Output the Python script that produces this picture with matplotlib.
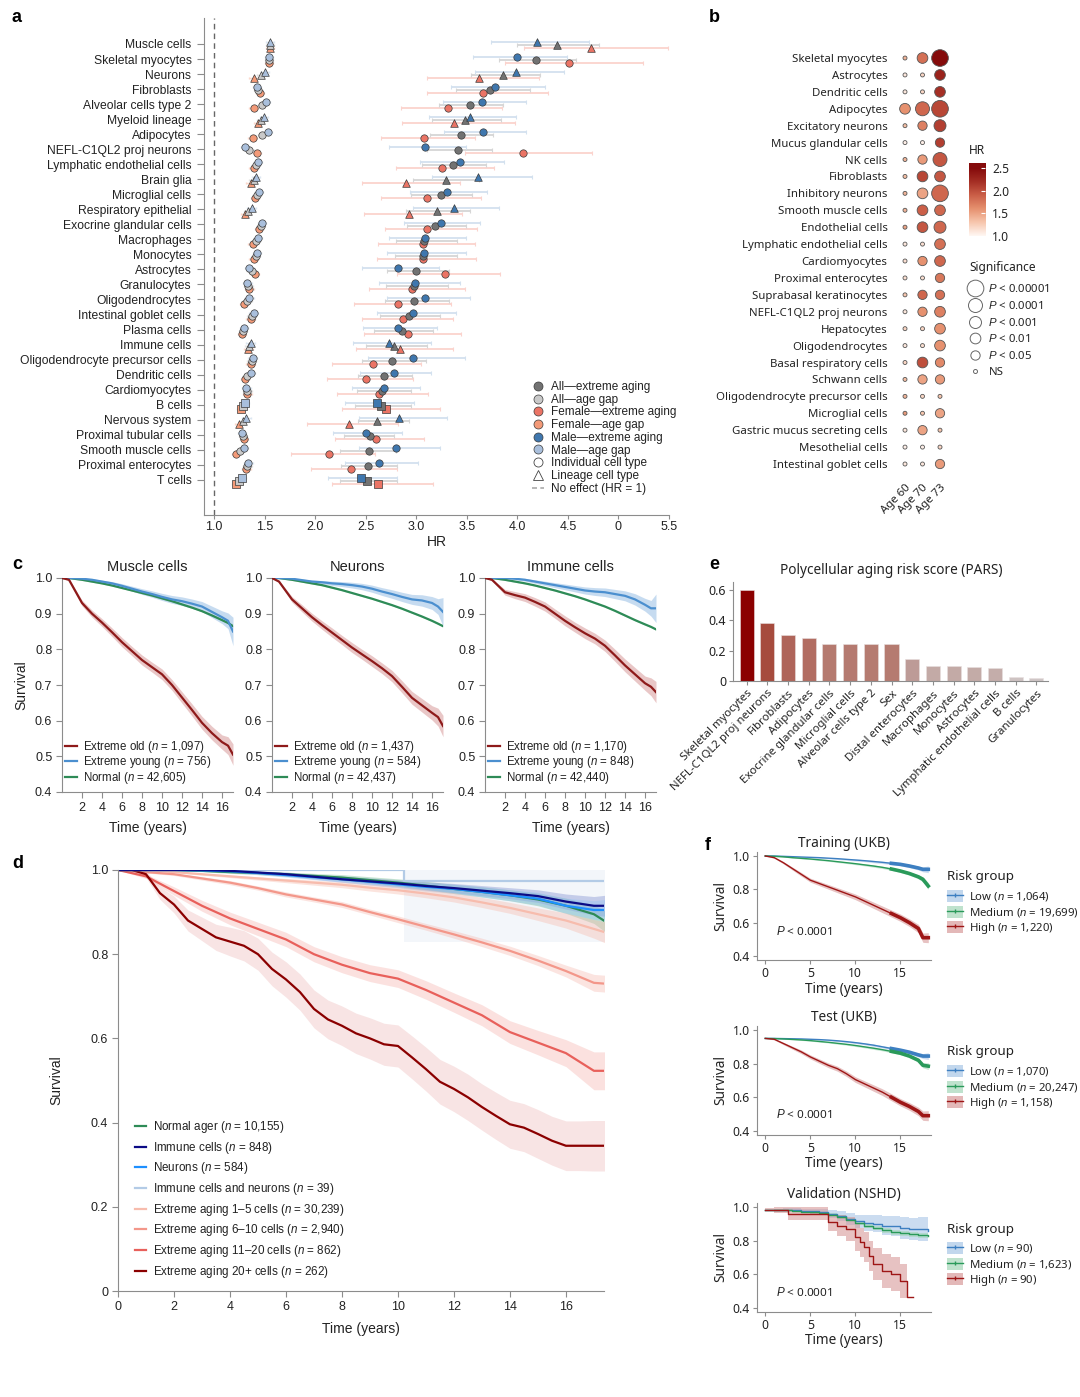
import numpy as np
import matplotlib
matplotlib.use('Agg')
import matplotlib.pyplot as plt
from matplotlib.colors import LinearSegmentedColormap
from matplotlib.lines import Line2D
from matplotlib.patches import Patch

plt.rcParams['font.family'] = ['Liberation Sans', 'DejaVu Sans']
plt.rcParams['mathtext.fontset'] = 'custom'
plt.rcParams['mathtext.it'] = 'Liberation Sans:italic'
plt.rcParams['mathtext.rm'] = 'Liberation Sans'
plt.rcParams['axes.edgecolor'] = '#8c8c8c'
plt.rcParams['xtick.color'] = '#8c8c8c'
plt.rcParams['ytick.color'] = '#8c8c8c'
plt.rcParams['xtick.labelcolor'] = '#222222'
plt.rcParams['ytick.labelcolor'] = '#222222'
plt.rcParams['text.color'] = '#222222'
plt.rcParams['axes.labelcolor'] = '#222222'

NOTO = ['Noto Sans', 'DejaVu Sans']

# ---------------- panel a data ----------------
rows_a = ['Muscle cells', 'Skeletal myocytes', 'Neurons', 'Fibroblasts', 'Alveolar cells type 2',
          'Myeloid lineage', 'Adipocytes', 'NEFL-C1QL2 proj neurons', 'Lymphatic endothelial cells',
          'Brain glia', 'Microglial cells', 'Respiratory epithelial', 'Exocrine glandular cells',
          'Macrophages', 'Monocytes', 'Astrocytes', 'Granulocytes', 'Oligodendrocytes',
          'Intestinal goblet cells', 'Plasma cells', 'Immune cells', 'Oligodendrocyte precursor cells',
          'Dendritic cells', 'Cardiomyocytes', 'B cells', 'Nervous system', 'Proximal tubular cells',
          'Smooth muscle cells', 'Proximal enterocytes', 'T cells']
lineage_a = ['Muscle cells', 'Neurons', 'Myeloid lineage', 'Brain glia', 'Respiratory epithelial',
             'Immune cells', 'Nervous system']
square_a = ['B cells', 'T cells']

male_ext = [4.19, 4.00, 3.99, 3.78, 3.65, 3.53, 3.66, 3.09, 3.43, 3.61, 3.30, 3.37, 3.24, 3.09, 3.08,
            2.82, 2.99, 3.09, 2.97, 2.82, 2.73, 2.97, 2.78, 2.68, 2.61, 2.83, 2.50, 2.80, 2.63, 2.45]
male_lo = [3.74, 3.56, 3.58, 3.34, 3.26, 3.13, 3.27, 2.73, 3.04, 3.16, 2.94, 2.97, 2.88, 2.73, 2.71,
           2.46, 2.63, 2.71, 2.61, 2.47, 2.37, 2.52, 2.44, 2.36, 2.29, 2.43, 2.18, 2.43, 2.29, 2.13]
male_hi = [4.71, 4.49, 4.46, 4.27, 4.09, 3.99, 4.09, 3.49, 3.87, 4.14, 3.70, 3.82, 3.63, 3.49, 3.49,
           3.22, 3.43, 3.53, 3.39, 3.20, 3.15, 3.48, 3.15, 3.04, 2.98, 3.30, 2.86, 3.23, 3.02, 2.81]
all_ext = [4.39, 4.18, 3.86, 3.73, 3.53, 3.48, 3.44, 3.41, 3.36, 3.29, 3.24, 3.20, 3.19, 3.08, 3.07,
           3.00, 2.98, 2.98, 2.93, 2.86, 2.78, 2.76, 2.68, 2.66, 2.65, 2.61, 2.54, 2.53, 2.52, 2.51]
all_lo = [4.00, 3.82, 3.54, 3.39, 3.22, 3.16, 3.14, 3.11, 3.06, 2.97, 2.95, 2.90, 2.91, 2.80, 2.79,
          2.71, 2.70, 2.69, 2.64, 2.58, 2.50, 2.46, 2.42, 2.41, 2.39, 2.42, 2.28, 2.25, 2.26, 2.25]
all_hi = [4.81, 4.58, 4.22, 4.12, 3.86, 3.84, 3.76, 3.75, 3.69, 3.62, 3.55, 3.53, 3.49, 3.40, 3.40,
          3.32, 3.31, 3.32, 3.23, 3.17, 3.11, 3.10, 2.96, 2.95, 2.95, 2.93, 2.78, 2.80, 2.81, 2.81]
fem_ext = [4.73, 4.51, 3.62, 3.66, 3.31, 3.37, 3.08, 4.06, 3.25, 2.90, 3.11, 2.93, 3.11, 3.07, 3.07,
           3.28, 2.96, 2.82, 2.87, 2.92, 2.84, 2.57, 2.50, 2.63, 2.70, 2.33, 2.60, 2.14, 2.35, 2.62]
fem_lo = [4.07, 3.88, 3.11, 3.11, 2.85, 2.86, 2.65, 3.48, 2.80, 2.46, 2.65, 2.48, 2.69, 2.62, 2.61,
          2.81, 2.53, 2.38, 2.46, 2.48, 2.40, 2.17, 2.12, 2.22, 2.27, 1.92, 2.20, 1.76, 1.96, 2.17]
fem_hi = [5.49, 5.24, 4.21, 4.30, 3.85, 3.98, 3.58, 4.74, 3.77, 3.43, 3.64, 3.45, 3.60, 3.58, 3.59,
          3.83, 3.48, 3.34, 3.36, 3.44, 3.36, 3.05, 2.97, 3.12, 3.23, 2.82, 3.08, 2.59, 2.81, 3.17]
male_gap = [1.55, 1.54, 1.50, 1.42, 1.51, 1.49, 1.53, 1.31, 1.43, 1.41, 1.44, 1.37, 1.47, 1.43, 1.42,
            1.35, 1.33, 1.35, 1.39, 1.30, 1.36, 1.38, 1.36, 1.32, 1.31, 1.32, 1.28, 1.30, 1.34, 1.28]
all_gap = [1.55, 1.54, 1.46, 1.43, 1.47, 1.46, 1.47, 1.35, 1.41, 1.39, 1.42, 1.34, 1.46, 1.41, 1.41,
           1.37, 1.34, 1.33, 1.37, 1.29, 1.35, 1.37, 1.33, 1.33, 1.29, 1.29, 1.29, 1.26, 1.33, 1.25]
fem_gap = [1.55, 1.54, 1.39, 1.45, 1.39, 1.43, 1.38, 1.42, 1.39, 1.36, 1.40, 1.31, 1.44, 1.38, 1.39,
           1.40, 1.35, 1.30, 1.36, 1.28, 1.34, 1.36, 1.31, 1.33, 1.27, 1.25, 1.30, 1.22, 1.32, 1.22]
gap_ci = 0.04
hr_ticks = [1.0, 1.5, 2.0, 2.5, 3.0, 3.5, 4.0, 4.5, 5.0, 5.5]
hr_ticklabels = ['1.0', '1.5', '2.0', '2.5', '3.0', '3.5', '4.0', '4.5', '0', '5.5']

# ---------------- panel b data ----------------
rows_b = ['Skeletal myocytes', 'Astrocytes', 'Dendritic cells', 'Adipocytes', 'Excitatory neurons',
          'Mucus glandular cells', 'NK cells', 'Fibroblasts', 'Inhibitory neurons', 'Smooth muscle cells',
          'Endothelial cells', 'Lymphatic endothelial cells', 'Cardiomyocytes', 'Proximal enterocytes',
          'Suprabasal keratinocytes', 'NEFL-C1QL2 proj neurons', 'Hepatocytes', 'Oligodendrocytes',
          'Basal respiratory cells', 'Schwann cells', 'Oligodendrocyte precursor cells', 'Microglial cells',
          'Gastric mucus secreting cells', 'Mesothelial cells', 'Intestinal goblet cells']
ages_b = ['Age 60', 'Age 70', 'Age 73']
hr_age60 = [1.4, 1.1, 1.1, 1.6, 1.35, 1.05, 1.4, 1.35, 1.4, 1.4, 1.5, 1.1, 1.15, 1.15, 1.3, 1.1, 1.2,
            1.1, 1.2, 1.35, 1.4, 1.55, 1.1, 1.05, 1.1]
sig_age60 = [0, 0, 0, 2, 0, 0, 0, 0, 0, 0, 0, 0, 0, 0, 0, 0, 0, 0, 0, 0, 0, 0, 0, 0, 0]
hr_age70 = [1.8, 1.2, 1.2, 1.85, 1.7, 1.05, 1.55, 2.05, 1.5, 1.9, 1.95, 1.15, 1.6, 1.15, 1.85, 1.6, 1.2,
            1.15, 2.0, 1.5, 1.2, 1.3, 1.5, 1.05, 1.1]
sig_age70 = [2, 0, 0, 4, 1, 0, 1, 2, 2, 2, 2, 0, 1, 0, 1, 1, 0, 0, 2, 1, 0, 0, 1, 0, 0]
hr_age73 = [2.5, 2.3, 2.2, 2.05, 2.1, 2.1, 1.95, 1.95, 1.85, 1.85, 1.85, 1.8, 1.85, 1.75, 1.8, 1.7, 1.6,
            1.6, 1.65, 1.55, 1.3, 1.5, 1.3, 1.2, 1.55]
sig_age73 = [5, 2, 2, 5, 3, 1, 4, 2, 5, 2, 3, 2, 2, 1, 1, 2, 2, 2, 1, 1, 0, 1, 0, 0, 1]
sig_labels = ['NS', '$P$ < 0.05', '$P$ < 0.01', '$P$ < 0.001', '$P$ < 0.0001', '$P$ < 0.00001']
sig_diam_px = [4, 9.3, 10.7, 12, 14, 16.7]

# ---------------- panel c data ----------------
t_c = [0, 0.7, 2, 3, 4, 5, 6, 7, 8, 9, 10, 11, 12, 13, 14, 15, 16, 16.6, 17.1]
c_titles = ['Muscle cells', 'Neurons', 'Immune cells']
c_old = [[1.0, 0.995, 0.93, 0.90, 0.875, 0.848, 0.82, 0.795, 0.77, 0.75, 0.73, 0.70, 0.665, 0.63, 0.594, 0.565, 0.54, 0.53, 0.505],
         [1.0, 0.99, 0.94, 0.915, 0.89, 0.868, 0.847, 0.826, 0.805, 0.786, 0.767, 0.747, 0.725, 0.695, 0.664, 0.643, 0.622, 0.61, 0.585],
         [1.0, 0.995, 0.96, 0.952, 0.945, 0.933, 0.92, 0.90, 0.88, 0.862, 0.845, 0.83, 0.81, 0.783, 0.755, 0.73, 0.705, 0.695, 0.68]]
c_young = [[1.0, 1.0, 0.998, 0.995, 0.99, 0.985, 0.978, 0.97, 0.962, 0.955, 0.947, 0.94, 0.935, 0.928, 0.92, 0.905, 0.89, 0.88, 0.85],
           [1.0, 1.0, 0.998, 0.994, 0.99, 0.988, 0.985, 0.983, 0.98, 0.976, 0.97, 0.962, 0.955, 0.947, 0.94, 0.937, 0.93, 0.92, 0.905],
           [1.0, 1.0, 1.0, 0.998, 0.995, 0.99, 0.985, 0.98, 0.975, 0.97, 0.965, 0.962, 0.96, 0.955, 0.95, 0.94, 0.925, 0.915, 0.915]]
c_normal = [[1.0, 1.0, 0.995, 0.99, 0.985, 0.979, 0.972, 0.965, 0.958, 0.951, 0.943, 0.935, 0.926, 0.917, 0.907, 0.895, 0.882, 0.874, 0.865],
            [1.0, 1.0, 0.995, 0.99, 0.985, 0.98, 0.973, 0.966, 0.958, 0.95, 0.942, 0.933, 0.924, 0.914, 0.903, 0.892, 0.88, 0.872, 0.865],
            [1.0, 1.0, 0.995, 0.99, 0.985, 0.979, 0.972, 0.965, 0.957, 0.949, 0.94, 0.93, 0.92, 0.908, 0.895, 0.882, 0.87, 0.863, 0.856]]
c_old_hw = [0, 0.003, 0.008, 0.01, 0.011, 0.012, 0.013, 0.013, 0.014, 0.014, 0.015, 0.015, 0.016, 0.017, 0.018, 0.019, 0.02, 0.025, 0.03]
c_young_hw = [0, 0, 0.002, 0.003, 0.004, 0.005, 0.006, 0.007, 0.008, 0.009, 0.01, 0.011, 0.012, 0.013, 0.014, 0.016, 0.018, 0.022, 0.04]
c_normal_hw = 0.002
c_n_old = ['1,097', '1,437', '1,170']
c_n_young = ['756', '584', '848']
c_n_normal = ['42,605', '42,437', '42,440']

# ---------------- panel d data ----------------
t_d = [0, 1, 2, 3, 4, 5, 6, 7, 8, 9, 10, 11, 12, 13, 14, 15, 16, 17, 17.4]
t_d_fine = [0, 0.5, 1, 1.5, 2, 2.5, 3, 3.5, 4, 4.5, 5, 5.5, 6, 6.5, 7, 7.5, 8, 8.5, 9, 9.5, 10, 10.5,
            11, 11.5, 12, 12.5, 13, 13.5, 14, 14.5, 15, 15.5, 16, 16.5, 17, 17.4]
d_normal = [1.0, 1.0, 1.0, 0.998, 0.995, 0.993, 0.99, 0.986, 0.982, 0.976, 0.97, 0.963, 0.955, 0.948, 0.94, 0.93, 0.915, 0.895, 0.878]
d_immune = [1.0, 1.0, 1.0, 1.0, 0.998, 0.994, 0.99, 0.984, 0.978, 0.973, 0.968, 0.962, 0.957, 0.951, 0.945, 0.938, 0.925, 0.915, 0.915]
d_neurons = [1.0, 1.0, 1.0, 0.999, 0.997, 0.993, 0.988, 0.983, 0.978, 0.972, 0.966, 0.96, 0.955, 0.948, 0.94, 0.932, 0.915, 0.905, 0.905]
d_both_t = [0, 10.2, 17.4]
d_both = [1.0, 0.975, 0.975]
d_both_band = [0.83, 1.0]
d_ext1_5 = [1.0, 1.0, 0.995, 0.99, 0.985, 0.98, 0.975, 0.97, 0.965, 0.958, 0.952, 0.944, 0.935, 0.923, 0.91, 0.895, 0.88, 0.86, 0.852]
d_ext6_10 = [1.0, 0.995, 0.99, 0.98, 0.97, 0.957, 0.942, 0.93, 0.918, 0.90, 0.883, 0.865, 0.847, 0.828, 0.808, 0.785, 0.76, 0.732, 0.73]
d_ext11_20 = [1.0, 0.985, 0.95, 0.915, 0.885, 0.86, 0.835, 0.80, 0.775, 0.755, 0.742, 0.715, 0.685, 0.655, 0.615, 0.59, 0.565, 0.523, 0.523]
d_ext20 = [1.0, 1.0, 0.99, 0.945, 0.918, 0.88, 0.86, 0.84, 0.83, 0.82, 0.80, 0.765, 0.74, 0.71, 0.67, 0.645,
           0.63, 0.612, 0.60, 0.586, 0.582, 0.555, 0.527, 0.497, 0.48, 0.46, 0.437, 0.416, 0.396, 0.388,
           0.373, 0.357, 0.345, 0.345, 0.345, 0.345]
d_ext20_hw = [0, 0.004, 0.008, 0.015, 0.02, 0.025, 0.028, 0.031, 0.034, 0.036, 0.038, 0.04, 0.042, 0.043,
              0.045, 0.046, 0.047, 0.048, 0.049, 0.05, 0.05, 0.051, 0.052, 0.053, 0.054, 0.055, 0.055,
              0.056, 0.057, 0.057, 0.058, 0.058, 0.059, 0.059, 0.06, 0.06]
d_ext11_20_hw = [0, 0.005, 0.01, 0.013, 0.015, 0.016, 0.017, 0.018, 0.019, 0.02, 0.021, 0.022, 0.023, 0.025, 0.027, 0.029, 0.032, 0.045, 0.045]
d_ext6_10_hw = [0, 0.002, 0.003, 0.004, 0.005, 0.005, 0.006, 0.006, 0.007, 0.007, 0.008, 0.008, 0.009, 0.01, 0.011, 0.012, 0.014, 0.02, 0.02]
d_small_hw = [0, 0, 0.001, 0.002, 0.003, 0.004, 0.005, 0.006, 0.007, 0.008, 0.009, 0.01, 0.011, 0.012, 0.013, 0.015, 0.018, 0.022, 0.025]
d_labels = ['Normal ager ($n$ = 10,155)', 'Immune cells ($n$ = 848)', 'Neurons ($n$ = 584)',
            'Immune cells and neurons ($n$ = 39)', 'Extreme aging 1–5 cells ($n$ = 30,239)',
            'Extreme aging 6–10 cells ($n$ = 2,940)', 'Extreme aging 11–20 cells ($n$ = 862)',
            'Extreme aging 20+ cells ($n$ = 262)']

# ---------------- panel e data ----------------
pars_labels = ['Skeletal myocytes', 'NEFL-C1QL2 proj neurons', 'Fibroblasts', 'Adipocytes',
               'Exocrine glandular cells', 'Microglial cells', 'Alveolar cells type 2', 'Sex',
               'Distal enterocytes', 'Macrophages', 'Monocytes', 'Astrocytes',
               'Lymphatic endothelial cells', 'B cells', 'Granulocytes']
pars_values = [0.60, 0.385, 0.305, 0.283, 0.247, 0.245, 0.243, 0.243, 0.148, 0.097, 0.097, 0.095, 0.087, 0.027, 0.018]

# ---------------- panel f data ----------------
t_f = [0, 1, 2, 3, 4, 5, 6, 7, 8, 9, 10, 11, 12, 13, 14, 15, 16, 17, 17.5, 18.1]
train_low = [1.0, 1.0, 0.998, 0.996, 0.994, 0.992, 0.99, 0.987, 0.984, 0.98, 0.976, 0.972, 0.967, 0.962, 0.956, 0.95, 0.94, 0.928, 0.92, 0.92]
train_med = [1.0, 0.998, 0.995, 0.99, 0.986, 0.982, 0.977, 0.972, 0.966, 0.96, 0.954, 0.947, 0.94, 0.932, 0.922, 0.91, 0.895, 0.875, 0.86, 0.82]
train_high = [1.0, 0.99, 0.96, 0.925, 0.89, 0.855, 0.835, 0.815, 0.795, 0.775, 0.755, 0.73, 0.705, 0.68, 0.655, 0.63, 0.60, 0.565, 0.51, 0.51]
test_low = [0.95, 0.95, 0.949, 0.948, 0.947, 0.945, 0.943, 0.94, 0.936, 0.931, 0.925, 0.918, 0.91, 0.90, 0.89, 0.88, 0.868, 0.852, 0.845, 0.845]
test_med = [0.95, 0.949, 0.947, 0.944, 0.941, 0.937, 0.932, 0.927, 0.921, 0.915, 0.908, 0.90, 0.892, 0.883, 0.873, 0.862, 0.845, 0.82, 0.79, 0.785]
test_high = [0.95, 0.945, 0.92, 0.895, 0.87, 0.84, 0.815, 0.79, 0.77, 0.74, 0.705, 0.68, 0.655, 0.63, 0.60, 0.57, 0.545, 0.515, 0.49, 0.49]
f_hw_small = [0, 0.001, 0.002, 0.002, 0.003, 0.003, 0.004, 0.004, 0.005, 0.005, 0.006, 0.006, 0.007, 0.007, 0.008, 0.009, 0.01, 0.012, 0.015, 0.02]
f_hw_high = [0, 0.004, 0.007, 0.009, 0.011, 0.012, 0.013, 0.014, 0.015, 0.016, 0.017, 0.018, 0.019, 0.02, 0.021, 0.022, 0.023, 0.025, 0.028, 0.03]
censor_from = 13.5
t_v = [0, 1, 2, 3, 4, 5, 6, 7, 8, 9, 10, 11, 12, 13, 14, 15, 16, 17, 18.1]
val_low = [0.985, 0.985, 0.985, 0.982, 0.978, 0.975, 0.97, 0.96, 0.945, 0.93, 0.915, 0.905, 0.90, 0.89, 0.885, 0.875, 0.87, 0.87, 0.855]
val_low_hw = [0, 0.005, 0.008, 0.01, 0.012, 0.015, 0.02, 0.025, 0.03, 0.035, 0.04, 0.045, 0.05, 0.055, 0.06, 0.065, 0.065, 0.07, 0.075]
val_med = [0.985, 0.985, 0.982, 0.978, 0.973, 0.968, 0.962, 0.955, 0.94, 0.925, 0.905, 0.89, 0.875, 0.862, 0.85, 0.843, 0.838, 0.832, 0.83]
val_med_hw = [0, 0.003, 0.004, 0.005, 0.006, 0.007, 0.008, 0.009, 0.01, 0.011, 0.012, 0.013, 0.013, 0.014, 0.014, 0.015, 0.015, 0.016, 0.016]
t_v_high = [0, 1, 2.5, 6.5, 7, 8, 9, 10, 10.5, 11, 11.5, 12, 13, 14, 15, 15.7, 16.4]
val_high = [0.985, 0.985, 0.96, 0.96, 0.91, 0.89, 0.87, 0.82, 0.79, 0.76, 0.71, 0.66, 0.62, 0.60, 0.56, 0.466, 0.466]
val_high_hw = [0.01, 0.02, 0.04, 0.04, 0.05, 0.06, 0.07, 0.08, 0.085, 0.09, 0.09, 0.095, 0.1, 0.1, 0.1, 0.0, 0.0]
f_titles = ['Training (UKB)', 'Test (UKB)', 'Validation (NSHD)']
f_n = [['1,064', '19,699', '1,220'], ['1,070', '20,247', '1,158'], ['90', '1,623', '90']]

# ---------------- figure ----------------
W, H = 1080, 1397
fig = plt.figure(figsize=(W / 100, H / 100), dpi=100)


def add_ax(l, t, r, b):
    return fig.add_axes([l / W, 1 - b / H, (r - l) / W, (b - t) / H])


def clean(ax):
    ax.spines['top'].set_visible(False)
    ax.spines['right'].set_visible(False)


for lab, x, y in [('a', 12, 18), ('b', 709, 18), ('c', 12, 565), ('e', 709, 565), ('d', 12, 863), ('f', 705, 846)]:
    fig.text(x / W, 1 - y / H, lab, fontsize=13, fontweight='bold', ha='left', va='center', color='black')

# ---------------- panel a ----------------
ax = add_ax(204, 18, 669, 515)
clean(ax)
ya = np.arange(len(rows_a))
ax.set_xlim(0.9, 5.5)
ax.set_ylim(31.34, -1.73)
ax.axvline(1.0, color='#666666', ls=(0, (4, 3)), lw=1.0, zorder=0)
mk_a = np.array(['^' if r in lineage_a else ('s' if r in square_a else 'o') for r in rows_a])
msize = {'o': 28, '^': 30, 's': 26}

series_a = [
    (fem_ext, fem_lo, fem_hi, 0.28, '#eb7465', '#fbd3cd'),
    (all_ext, all_lo, all_hi, 0.08, '#727272', '#d6d6d6'),
    (male_ext, male_lo, male_hi, -0.12, '#3f77ae', '#d3e1ef'),
]
for vals, lo, hi, off, col, ecol in series_a:
    v = np.array(vals)
    ax.errorbar(v, ya + off, xerr=[v - np.array(lo), np.array(hi) - v], fmt='none', ecolor=ecol,
                elinewidth=1.3, capsize=1.2, capthick=0.8, zorder=1)
gap_series = [
    (fem_gap, 0.28, '#f39a78', '#fcd9cc'),
    (all_gap, 0.08, '#c9c9c9', '#e2e2e2'),
    (male_gap, -0.12, '#a9bfdc', '#dde7f2'),
]
for vals, off, col, ecol in gap_series:
    ax.errorbar(vals, ya + off, xerr=gap_ci, fmt='none', ecolor=ecol, elinewidth=1.0, capsize=1, zorder=1)

for vals, off, col in [(v[0], v[3], v[4]) for v in series_a] + [(g[0], g[1], g[2]) for g in gap_series]:
    v = np.array(vals)
    for m in ['o', '^', 's']:
        idx = mk_a == m
        ax.scatter(v[idx], ya[idx] + off, marker=m, s=msize[m], c=col, edgecolors='#3a3a3a',
                   linewidths=0.5, zorder=3)

ax.set_yticks(ya)
ax.set_yticklabels(rows_a, fontsize=8.7)
ax.tick_params(axis='y', length=5, pad=4)
ax.set_xticks(hr_ticks)
ax.set_xticklabels(hr_ticklabels, fontsize=9)
ax.tick_params(axis='x', length=3, pad=1.5)
ax.set_xlabel('HR', fontsize=10, labelpad=1)

leg_handles = [
    Line2D([], [], marker='o', ls='none', mfc='#727272', mec='#3a3a3a', mew=0.5, ms=6.5),
    Line2D([], [], marker='o', ls='none', mfc='#c9c9c9', mec='#3a3a3a', mew=0.5, ms=6.5),
    Line2D([], [], marker='o', ls='none', mfc='#eb7465', mec='#3a3a3a', mew=0.5, ms=6.5),
    Line2D([], [], marker='o', ls='none', mfc='#f39a78', mec='#3a3a3a', mew=0.5, ms=6.5),
    Line2D([], [], marker='o', ls='none', mfc='#3f77ae', mec='#3a3a3a', mew=0.5, ms=6.5),
    Line2D([], [], marker='o', ls='none', mfc='#a9bfdc', mec='#3a3a3a', mew=0.5, ms=6.5),
    Line2D([], [], marker='o', ls='none', mfc='white', mec='#444444', mew=0.6, ms=6.5),
    Line2D([], [], marker='^', ls='none', mfc='white', mec='#444444', mew=0.6, ms=6.5),
    Line2D([], [], color='#aaaaaa', ls=(0, (3, 2)), lw=1.2),
]
leg_labels = ['All—extreme aging', 'All—age gap', 'Female—extreme aging', 'Female—age gap',
              'Male—extreme aging', 'Male—age gap', 'Individual cell type', 'Lineage cell type',
              'No effect (HR = 1)']
ax.legend(leg_handles, leg_labels, loc='upper left', bbox_to_anchor=((532 - 204) / 465, 1 - (381 - 18) / 497),
          frameon=False, fontsize=8.5, handlelength=1.0, handletextpad=0.6, labelspacing=0.06,
          borderaxespad=0, borderpad=0)

# ---------------- panel b ----------------
cmap_b = LinearSegmentedColormap.from_list('hr', ['#fff7f3', '#f7c6ad', '#e6916f', '#cb5f48', '#a52f25', '#850b0b'])
axb = add_ax(894.5, 45, 950.5, 475)
yb = np.arange(len(rows_b))
size_b = np.array([(d * 0.72) ** 2 for d in sig_diam_px])
for j, (hr, sig) in enumerate([(hr_age60, sig_age60), (hr_age70, sig_age70), (hr_age73, sig_age73)]):
    axb.scatter(np.full(len(rows_b), j), yb, s=size_b[np.array(sig)], c=hr, cmap=cmap_b, vmin=1.0, vmax=2.5,
                edgecolors='#555555', linewidths=0.6, zorder=3)
axb.set_xlim(-0.6, 2.6)
axb.set_ylim(24.65, -0.77)
for s in axb.spines.values():
    s.set_visible(False)
axb.set_yticks(yb)
axb.set_yticklabels(rows_b, fontsize=8.2, fontfamily=NOTO)
axb.set_xticks([0, 1, 2])
axb.set_xticklabels(ages_b, fontsize=8.2, fontfamily=NOTO, rotation=45, ha='right', rotation_mode='anchor')
axb.tick_params(length=0, pad=5)

axcb = add_ax(969, 163, 985, 236)
grad = np.linspace(1.0, 2.61, 200)[:, None]
axcb.imshow(grad, aspect='auto', cmap=cmap_b, vmin=1.0, vmax=2.5, origin='lower', extent=[0, 1, 1.0, 2.61])
axcb.set_ylim(1.0, 2.61)
axcb.set_xticks([])
axcb.yaxis.tick_right()
axcb.set_yticks([1.0, 1.5, 2.0, 2.5])
axcb.set_yticklabels(['1.0', '1.5', '2.0', '2.5'], fontsize=8.6, fontfamily=NOTO)
axcb.tick_params(axis='y', direction='in', color='white', length=3, pad=5)
for s in axcb.spines.values():
    s.set_visible(False)
fig.text(969 / W, 1 - 151 / H, 'HR', fontsize=8.6, fontfamily=NOTO, va='center')

fig.text(969 / W, 1 - 267 / H, 'Significance', fontsize=8.6, fontfamily=NOTO, va='center')
sig_handles = [Line2D([], [], marker='o', ls='none', mfc='white', mec='#666666', mew=0.7, ms=d * 0.72)
               for d in sig_diam_px[::-1]]
fig.legend(sig_handles, sig_labels[::-1], loc='upper left', bbox_to_anchor=(968 / W, 1 - 283 / H),
           frameon=False, prop={'family': NOTO, 'size': 8.2},
           handlelength=1.3, handletextpad=0.5, labelspacing=0.42, borderpad=0, borderaxespad=0)

# ---------------- panel c ----------------
red_c, blue_c, green_c = '#8e1a1a', '#4b8fcf', '#2e8b57'
for i, left in enumerate([62, 272, 485]):
    axc = add_ax(left, 578, left + 171, 792)
    clean(axc)
    tc = np.array(t_c)
    old = np.array(c_old[i])
    yng = np.array(c_young[i])
    nrm = np.array(c_normal[i])
    axc.fill_between(tc, old - np.array(c_old_hw), old + np.array(c_old_hw), color='#c97575', alpha=0.4, lw=0)
    axc.fill_between(tc, yng - np.array(c_young_hw), np.minimum(yng + np.array(c_young_hw), 1.0),
                     color='#8fb9e2', alpha=0.5, lw=0)
    axc.fill_between(tc, nrm - c_normal_hw, nrm + c_normal_hw, color='#8cc9a5', alpha=0.5, lw=0)
    axc.plot(tc, nrm, color=green_c, lw=1.6, label='Normal ($n$ = %s)' % c_n_normal[i], zorder=3)
    axc.plot(tc, yng, color=blue_c, lw=1.6, label='Extreme young ($n$ = %s)' % c_n_young[i], zorder=3)
    axc.plot(tc, old, color=red_c, lw=1.6, label='Extreme old ($n$ = %s)' % c_n_old[i], zorder=4)
    axc.set_xlim(0, 17.1)
    axc.set_ylim(0.4, 1.0)
    axc.set_xticks([2, 4, 6, 8, 10, 12, 14, 16])
    axc.set_yticks([0.4, 0.5, 0.6, 0.7, 0.8, 0.9, 1.0])
    axc.set_yticklabels(['0.4', '0.5', '0.6', '0.7', '0.8', '0.9', '1.0'])
    axc.tick_params(labelsize=9, length=4, pad=3)
    axc.set_title(c_titles[i], fontsize=10.5, pad=5)
    axc.set_xlabel('Time (years)', fontsize=10, labelpad=5)
    if i == 0:
        axc.set_ylabel('Survival', fontsize=10, labelpad=5)
    h, l = axc.get_legend_handles_labels()
    axc.legend(h[::-1], l[::-1], loc='lower left', bbox_to_anchor=(0.02, 0.03), frameon=False, fontsize=8.3,
               handlelength=1.0, handletextpad=0.5, labelspacing=-0.05, borderpad=0, borderaxespad=0)

# ---------------- panel e ----------------
cmap_e = LinearSegmentedColormap.from_list('pars', [(0.0, '#d2cccc'), (0.17, '#c2a8a4'), (0.25, '#bd9b96'),
                                                    (0.41, '#b57a6f'), (0.5, '#b0675c'), (0.65, '#a64a3c'),
                                                    (1.0, '#8b0000')])
axe = add_ax(733, 582.4, 1048, 681)
clean(axe)
xe = np.arange(len(pars_labels))
axe.bar(xe, pars_values, width=0.68, color=cmap_e(np.array(pars_values) / 0.6), edgecolor='#e8e0e0', lw=0.4)
axe.set_xlim(-0.66, 14.56)
axe.set_ylim(0, 0.65)
axe.set_yticks([0, 0.2, 0.4, 0.6])
axe.set_yticklabels(['0', '0.2', '0.4', '0.6'], fontsize=9, fontfamily=NOTO)
axe.set_xticks(xe)
axe.set_xticklabels(pars_labels, rotation=45, ha='right', rotation_mode='anchor', fontsize=8.2, fontfamily=NOTO)
axe.tick_params(length=3, pad=2)
fig.text(891 / W, 1 - 571 / H, 'Polycellular aging risk score (PARS)', ha='center', va='center', fontsize=9.8,
         fontfamily=NOTO)

# ---------------- panel d ----------------
axd = add_ax(118, 870, 604, 1291)
clean(axd)
td = np.array(t_d)
tdf = np.array(t_d_fine)
d_cols = ['#2e8b57', '#0b0b86', '#1e90ff', '#b3cbe6', '#f7bcad', '#f3978a', '#e8605b', '#8b0000']
axd.fill_between([d_both_t[1], d_both_t[2]], d_both_band[0], d_both_band[1], color='#dfe8f3', alpha=0.35, lw=0)
for vals, hw, col, alpha in [(d_normal, d_small_hw, '#8cc9a5', 0.5), (d_immune, d_small_hw, '#7f8fd0', 0.4),
                             (d_neurons, d_small_hw, '#93c4f5', 0.4), (d_ext1_5, d_small_hw, '#f7bcad', 0.4),
                             (d_ext6_10, d_ext6_10_hw, '#f6b2a8', 0.35), (d_ext11_20, d_ext11_20_hw, '#f4aba6', 0.35)]:
    v = np.array(vals)
    axd.fill_between(td, v - np.array(hw), np.minimum(v + np.array(hw), 1.0), color=col, alpha=alpha, lw=0)
v20 = np.array(d_ext20)
axd.fill_between(tdf, v20 - np.array(d_ext20_hw), v20 + np.array(d_ext20_hw), color='#f0c4c4', alpha=0.45, lw=0)
series_d = [(td, d_normal), (td, d_immune), (td, d_neurons), (d_both_t, d_both), (td, d_ext1_5),
            (td, d_ext6_10), (td, d_ext11_20), (tdf, d_ext20)]
order_d = [4, 5, 6, 7, 3, 0, 2, 1]
lines_d = {}
for k in order_d:
    t, v = series_d[k]
    ds = 'steps-post' if k == 3 else 'default'
    lines_d[k], = axd.plot(t, v, color=d_cols[k], lw=1.6, drawstyle=ds, label=d_labels[k])
axd.set_xlim(0, 17.36)
axd.set_ylim(0, 1.0)
axd.set_xticks([0, 2, 4, 6, 8, 10, 12, 14, 16])
axd.set_yticks([0, 0.2, 0.4, 0.6, 0.8, 1.0])
axd.set_yticklabels(['0', '0.2', '0.4', '0.6', '0.8', '1.0'])
axd.tick_params(labelsize=9, length=4, pad=3)
axd.set_xlabel('Time (years)', fontsize=10, labelpad=7)
axd.set_ylabel('Survival', fontsize=10, labelpad=20)
axd.legend([lines_d[k] for k in range(8)], d_labels, loc='lower left', bbox_to_anchor=(0.035, 0.027),
           frameon=False, fontsize=8.4, handlelength=0.9, handletextpad=0.6, labelspacing=0.4,
           borderpad=0, borderaxespad=0)

# ---------------- panel f ----------------
f_cols = ['#3d7fc1', '#2a9a5a', '#9e1616']
f_band = ['#a9c6e6', '#a4d7b8', '#d89a9a']
f_boxes = [(851.5, 960.2), (1025.5, 1135), (1202.5, 1312)]
f_leg_title_y = [877, 1052, 1229]
tf = np.array(t_f)
f_sets = [
    [(tf, train_low, f_hw_small), (tf, train_med, f_hw_small), (tf, train_high, f_hw_high)],
    [(tf, test_low, f_hw_small), (tf, test_med, f_hw_small), (tf, test_high, f_hw_high)],
    [(np.array(t_v), val_low, val_low_hw), (np.array(t_v), val_med, val_med_hw),
     (np.array(t_v_high), val_high, val_high_hw)],
]
p_y = [0.547, 0.498, 0.49]
for i, (top, bot) in enumerate(f_boxes):
    axf = add_ax(757, top, 931, bot)
    clean(axf)
    for j, (t, v, hw) in enumerate(f_sets[i]):
        v = np.array(v)
        hw = np.array(hw)
        st = 'post' if i == 2 else None
        axf.fill_between(t, v - hw, np.minimum(v + hw, 1.0), color=f_band[j], alpha=0.6, lw=0, step=st)
    for j, (t, v, hw) in enumerate(f_sets[i]):
        ds = 'steps-post' if i == 2 else 'default'
        axf.plot(t, v, color=f_cols[j], lw=1.0, drawstyle=ds, zorder=3)
        if i < 2:
            # dense censoring marks make the tail look thick
            late = t >= censor_from
            axf.plot(t[late], np.array(v)[late], color=f_cols[j], lw=2.6, zorder=3)
    axf.set_xlim(-0.92, 18.4)
    axf.set_ylim(0.375, 1.027)
    axf.set_xticks([0, 5, 10, 15])
    axf.set_yticks([0.4, 0.6, 0.8, 1.0])
    axf.set_yticklabels(['0.4', '0.6', '0.8', '1.0'])
    for lab in axf.get_xticklabels() + axf.get_yticklabels():
        lab.set_fontfamily(NOTO)
        lab.set_fontsize(8.8)
    axf.tick_params(length=3, pad=2)
    axf.set_title(f_titles[i], fontsize=9.8, pad=3, fontfamily=NOTO)
    axf.set_xlabel('Time (years)', fontsize=9.8, labelpad=1, fontfamily=NOTO)
    axf.set_ylabel('Survival', fontsize=9.8, labelpad=3, fontfamily=NOTO)
    axf.text(1.2, p_y[i], '$P$ < 0.0001', fontsize=8.4, va='center', fontfamily=NOTO)
    fig.text(947 / W, 1 - f_leg_title_y[i] / H, 'Risk group', fontsize=9.6, fontfamily=NOTO, va='center')
    handles = [(Patch(facecolor=f_band[j], edgecolor='none', alpha=0.7),
                Line2D([], [], color=f_cols[j], lw=1.0, marker='|', ms=3)) for j in range(3)]
    labels = ['Low ($n$ = %s)' % f_n[i][0], 'Medium ($n$ = %s)' % f_n[i][1], 'High ($n$ = %s)' % f_n[i][2]]
    fig.legend(handles, labels, loc='upper left', bbox_to_anchor=(947 / W, 1 - (f_leg_title_y[i] + 13) / H),
               frameon=False, prop={'family': NOTO, 'size': 8.2},
               handlelength=1.4, handleheight=1.25, handletextpad=0.5, labelspacing=0.2,
               borderpad=0, borderaxespad=0)

fig.savefig('out.png', dpi=100)
